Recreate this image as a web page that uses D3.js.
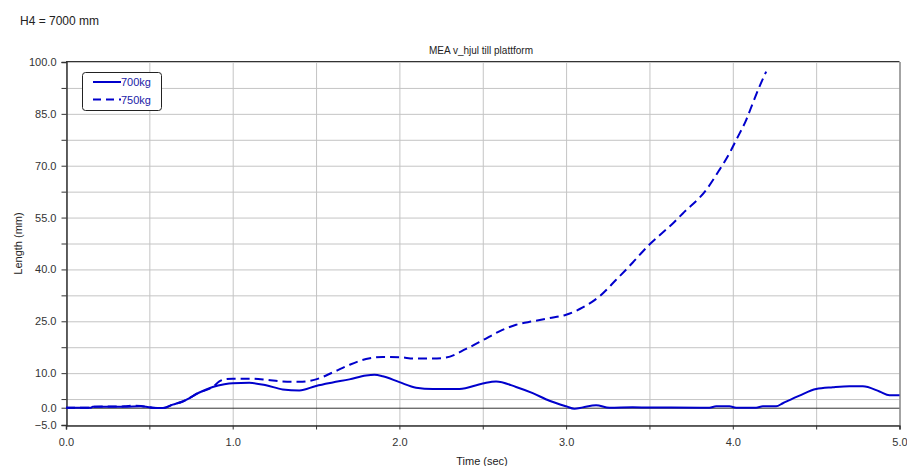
<!DOCTYPE html>
<html>
<head>
<meta charset="utf-8">
<script src="https://cdn.jsdelivr.net/npm/d3@7"></script>
<style>
body { margin: 0; background: #fff; }
text { font-family: "Liberation Sans", Arial, sans-serif; }
</style>
</head>
<body>
<script>

var t700 = [0, 0.15, 0.16, 0.35, 0.45, 0.48, 0.52, 0.58, 0.64, 0.7, 0.8, 0.88, 0.95, 1.0, 1.1, 1.2, 1.3, 1.4, 1.5, 1.6, 1.7, 1.8, 1.85, 1.9, 2.0, 2.1, 2.2, 2.36, 2.5, 2.58, 2.7, 2.8, 2.9, 3.0, 3.05, 3.1, 3.18, 3.26, 3.4, 3.86, 3.9, 3.98, 4.02, 4.14, 4.18, 4.26, 4.3, 4.4, 4.5, 4.6, 4.7, 4.78, 4.88, 4.94, 5.0],
	len700 = [0, 0, 0.3, 0.3, 0.4, 0.3, 0, -0.1, 0.9, 1.8, 4.4, 6.0, 6.8, 7.1, 7.2, 6.5, 5.3, 5.0, 6.3, 7.3, 8.2, 9.3, 9.5, 9.1, 7.4, 5.8, 5.4, 5.4, 7.0, 7.6, 6.0, 4.2, 2.0, 0.4, -0.3, 0.1, 0.7, 0, 0.1, 0, 0.4, 0.4, 0, 0, 0.4, 0.4, 1.3, 3.5, 5.4, 5.9, 6.2, 6.2, 4.7, 3.6, 3.6];

var t750 = [0, 0.15, 0.16, 0.35, 0.4, 0.45, 0.48, 0.52, 0.58, 0.64, 0.7, 0.8, 0.88, 0.92, 0.95, 1.0, 1.1, 1.2, 1.3, 1.4, 1.5, 1.6, 1.7, 1.8, 1.9, 2.0, 2.1, 2.2, 2.28, 2.4, 2.5, 2.6, 2.7, 2.8, 2.9, 3.0, 3.1, 3.2, 3.3, 3.4, 3.46, 3.5, 3.64, 3.7, 3.84, 3.92, 3.98, 4.02, 4.08, 4.12, 4.16, 4.2],
	len750 = [0, 0, 0.3, 0.4, 0.6, 0.5, 0.3, 0, -0.1, 0.9, 1.8, 4.4, 6.0, 7.6, 8.2, 8.4, 8.4, 8.1, 7.6, 7.5, 8.2, 10.2, 12.4, 14.1, 14.7, 14.6, 14.2, 14.2, 14.5, 17.0, 19.5, 22.1, 24.0, 25.0, 25.9, 26.9, 29.0, 32.2, 37.0, 42.0, 45.2, 47.2, 53.3, 56.2, 63.0, 68.8, 73.6, 77.4, 83.2, 88.1, 92.9, 97.2];

var seriesNames = ["700kg", "750kg"];

var yGrid = [-5, 2.5, 10, 17.5, 25, 32.5, 40, 47.5, 55, 62.5, 70, 77.5, 85, 92.5, 100],
	yLabels = [100, 85, 70, 55, 40, 25, 10, 0, -5],
	xGrid = [0, 0.5, 1, 1.5, 2, 2.5, 3, 3.5, 4, 4.5, 5],
	xLabels = [0, 1, 2, 3, 4, 5];

var width = 907,
	height = 466,
	blue = "#0000cc";

var x = d3.scaleLinear().domain([0, 5]).range([66, 899.5]),
	y = d3.scaleLinear().domain([-5, 100]).range([425, 62]);

var svg = d3.select("body").append("svg")
		.attr("width", width)
		.attr("height", height);

svg.append("text")
		.attr("x", 20).attr("y", 25)
		.attr("font-size", 12)
		.attr("fill", "#222")
		.text("H4 = 7000 mm");

svg.append("text")
		.attr("x", 481).attr("y", 54)
		.attr("text-anchor", "middle")
		.attr("font-size", 10)
		.attr("fill", "#222")
		.text("MEA v_hjul till plattform");

// grid
svg.append("g").selectAll("line")
		.data(yGrid)
	.enter().append("line")
		.attr("x1", x(0)).attr("x2", x(5))
		.attr("y1", function(d){return y(d) + 0.5;})
		.attr("y2", function(d){return y(d) + 0.5;})
		.attr("stroke", "#c4c4c4");

svg.append("g").selectAll("line")
		.data(xGrid)
	.enter().append("line")
		.attr("y1", y(-5)).attr("y2", y(100))
		.attr("x1", function(d){return x(d) + 0.5;})
		.attr("x2", function(d){return x(d) + 0.5;})
		.attr("stroke", "#c4c4c4");

// zero line and border
svg.append("line")
		.attr("x1", x(0)).attr("x2", x(5))
		.attr("y1", y(0) + 0.5).attr("y2", y(0) + 0.5)
		.attr("stroke", "#333");

svg.append("line")
		.attr("x1", x(0)).attr("x2", x(5))
		.attr("y1", y(100) - 0.5).attr("y2", y(100) - 0.5)
		.attr("stroke", "#333");

svg.append("line")
		.attr("x1", x(5) + 0.5).attr("x2", x(5) + 0.5)
		.attr("y1", y(100)).attr("y2", y(-5))
		.attr("stroke", "#666");

// axes
var fmt = d3.format(".1f");

var yAxis = svg.append("g")
		.attr("transform", "translate(" + (x(0) + 0.5) + ",0)")
		.call(d3.axisLeft(y)
			.tickValues(yGrid.concat([0]))
			.tickSize(5)
			.tickPadding(5)
			.tickFormat(function(d){return yLabels.indexOf(d) >= 0 ? fmt(d) : "";}));

var xAxis = svg.append("g")
		.attr("transform", "translate(0," + (y(-5) + 0.5) + ")")
		.call(d3.axisBottom(x)
			.tickValues(xGrid)
			.tickSize(4)
			.tickPadding(9)
			.tickFormat(function(d){return xLabels.indexOf(d) >= 0 ? fmt(d) : "";}));

[yAxis, xAxis].forEach(function(a){
	a.select(".domain").attr("stroke", "#333").attr("stroke-width", 1.5);
	a.selectAll(".tick line").attr("stroke", "#333");
	a.selectAll(".tick text")
			.attr("font-size", 11)
			.attr("font-family", "Liberation Sans, Arial, sans-serif")
			.attr("fill", "#333");
});

svg.append("text")
		.attr("transform", "translate(22," + y(47.5) + ") rotate(-90)")
		.attr("text-anchor", "middle")
		.attr("font-size", 11)
		.attr("fill", "#222")
		.text("Length (mm)");

svg.append("text")
		.attr("x", 482).attr("y", 465)
		.attr("text-anchor", "middle")
		.attr("font-size", 11)
		.attr("fill", "#222")
		.text("Time (sec)");

// lines
var line = d3.line()
		.x(function(d){return x(d[0]);})
		.y(function(d){return y(d[1]);})
		.curve(d3.curveMonotoneX);

var data700 = t700.map(function(t, i){return [t, len700[i]];}),
	data750 = t750.map(function(t, i){return [t, len750[i]];});

svg.append("path")
		.datum(data750)
		.attr("d", line)
		.attr("fill", "none")
		.attr("stroke", blue)
		.attr("stroke-width", 2)
		.attr("stroke-dasharray", "9,5");

svg.append("path")
		.datum(data700)
		.attr("d", line)
		.attr("fill", "none")
		.attr("stroke", blue)
		.attr("stroke-width", 2);

// legend
var legend = svg.append("g").attr("transform", "translate(82,72)");

legend.append("rect")
		.attr("x", 0.5).attr("y", 0.5)
		.attr("width", 79).attr("height", 38)
		.attr("rx", 3)
		.attr("fill", "#fff")
		.attr("stroke", "#222");

legend.selectAll(".item")
		.data(seriesNames)
	.enter().append("g")
		.attr("class", "item")
		.attr("transform", function(d, i){return "translate(0," + (10 + i * 17.5) + ")";})
		.each(function(d, i){
			var g = d3.select(this);
			g.append("line")
					.attr("x1", 11).attr("x2", 39)
					.attr("stroke", blue)
					.attr("stroke-width", 2)
					.attr("stroke-dasharray", i ? "8,5" : null);
			g.append("text")
					.attr("x", 39).attr("y", 4)
					.attr("font-size", 11)
					.attr("fill", "#1c1ca8")
					.text(d);
		});

</script>
</body>
</html>
